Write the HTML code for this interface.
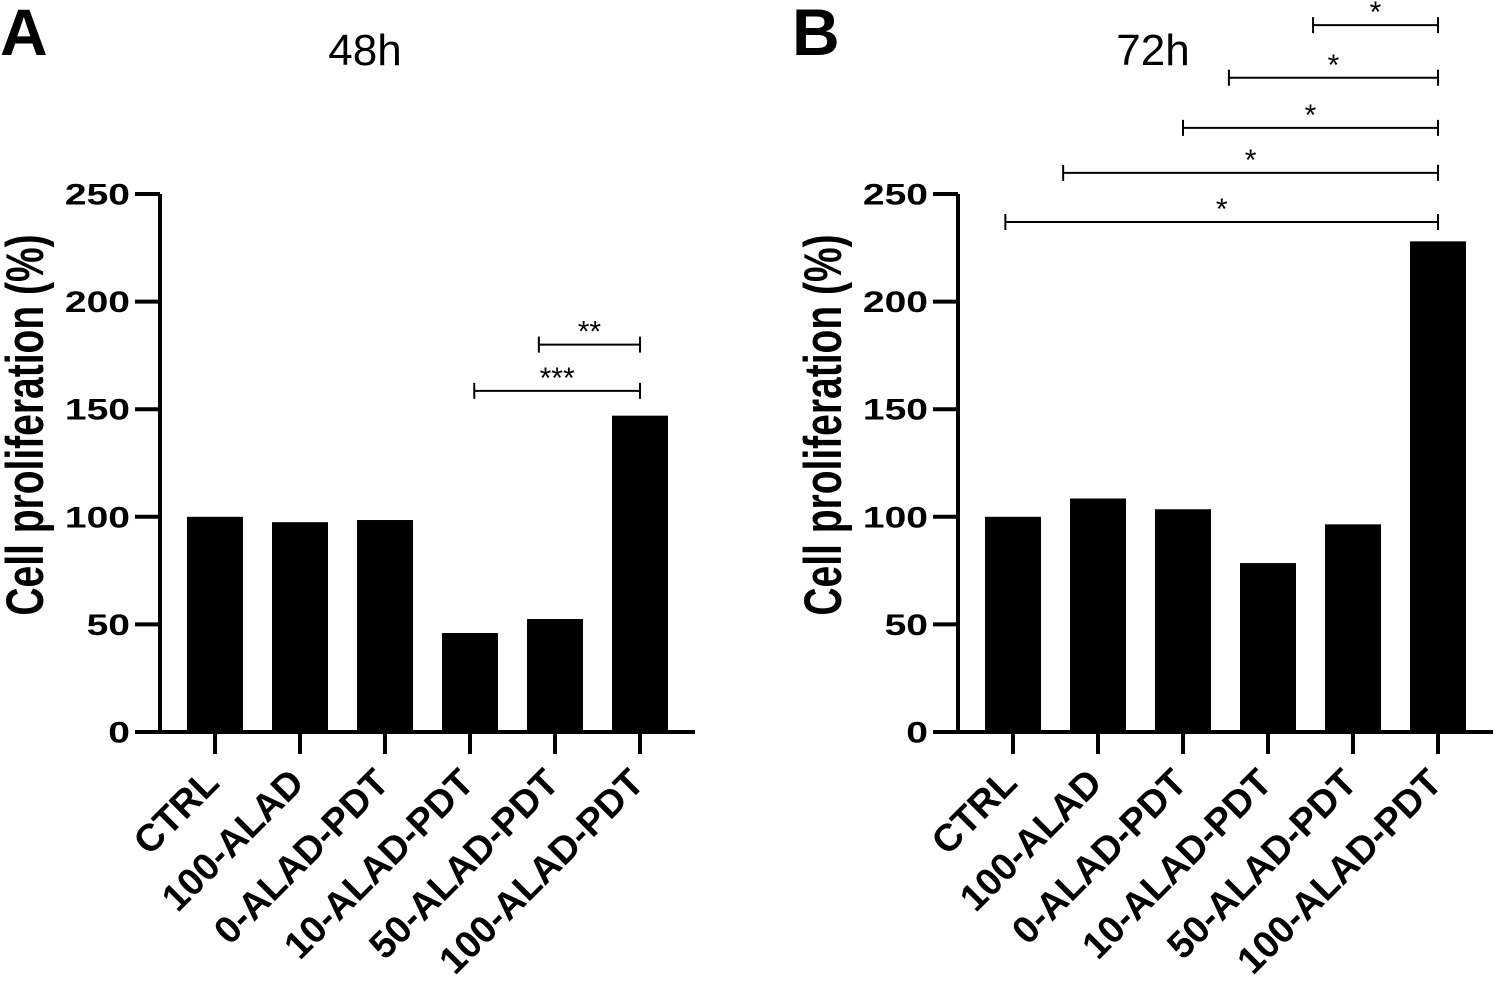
<!DOCTYPE html>
<html><head><meta charset="utf-8"><style>
body{margin:0;background:#fff;}
svg text{font-family:"Liberation Sans",Arial,sans-serif;}
</style></head><body>
<svg id="c" width="1499" height="992" xmlns="http://www.w3.org/2000/svg"></svg>
<script>
const categories=["CTRL","100-ALAD","0-ALAD-PDT","10-ALAD-PDT","50-ALAD-PDT","100-ALAD-PDT"];
const values48=[100,97.5,98.5,46,52.5,147];
const values72=[100,108.5,103.5,78.5,96.5,228];
const yTicks=[0,50,100,150,200,250];
const sig48=[{from:3.81,to:5,label:"**",level:180},{from:3.05,to:5,label:"***",level:158.5}];
const sig72=[{from:3.53,to:5,label:"*",level:328.5},{from:2.54,to:5,label:"*",level:304},{from:2,to:5,label:"*",level:280.7},{from:0.59,to:5,label:"*",level:259.8},{from:-0.09,to:5,label:"*",level:237}];
const svg=document.getElementById('c');
const NS="http://www.w3.org/2000/svg";
function mk(t,a,txt){const e=document.createElementNS(NS,t);for(const k in a)e.setAttribute(k,a[k]);if(txt!==undefined)e.textContent=txt;svg.appendChild(e);return e;}
const y=v=>732-v*(538/250);
function panel(ax,vals,sigs,title,letter,titleX,letterX){
  const x=i=>ax+55+i*85;
  const yl=mk('line',{x1:ax,y1:y(250),x2:ax,y2:y(0)+1.5,stroke:'#000','stroke-width':4});
  
  const xl=mk('line',{x1:ax-2,y1:y(0),x2:ax+535,y2:y(0),stroke:'#000','stroke-width':4});
  
  yTicks.forEach(t=>{
    const l=mk('line',{x1:ax-25,y1:y(t),x2:ax,y2:y(t),stroke:'#000','stroke-width':4});
    
    const s=String(t);
    const tx=mk('text',{x:ax-30,y:y(t)+10.5,'text-anchor':'end','font-size':30,'font-weight':'bold',textLength:21.7*s.length,lengthAdjust:'spacingAndGlyphs'},s);
    
  });
  const yt=mk('text',{x:0,y:0,transform:`translate(${ax-117},425) scale(1.35,1) rotate(-90)`,'text-anchor':'middle','font-size':39,'font-weight':'bold'},'Cell proliferation (%)');
  
  vals.forEach((v,i)=>{
    const b=mk('rect',{x:x(i)-28,y:y(v),width:56,height:y(0)-y(v),fill:'#000'});
    
    const t=mk('line',{x1:x(i),y1:y(0),x2:x(i),y2:y(0)+22,stroke:'#000','stroke-width':4});
    
    const lb=mk('text',{x:0,y:0,transform:`translate(${x(i)+6},${y(0)+53}) rotate(-45)`,'text-anchor':'end','font-size':38,'font-weight':'bold'},categories[i]);
    
  });
  sigs.forEach(s=>{
    const x1=x(s.from),x2=x(s.to),yy=y(s.level);
    const p=mk('path',{d:`M${x1},${yy-8}V${yy+8}M${x1},${yy}H${x2}M${x2},${yy-8}V${yy+8}`,stroke:'#000','stroke-width':2,fill:'none'});
    
    const st=mk('text',{x:(x1+x2)/2,y:yy-3,'text-anchor':'middle','font-size':30},s.label);
    
  });
  const tt=mk('text',{x:titleX,y:65,'text-anchor':'middle','font-size':44},title);
  
  const lt=mk('text',{x:letterX,y:55,'font-size':66,'font-weight':'bold'},letter);
  
}
panel(160,values48,sig48,"48h","A",365,0);
panel(958,values72,sig72,"72h","B",1153,792);
</script>
</body></html>
